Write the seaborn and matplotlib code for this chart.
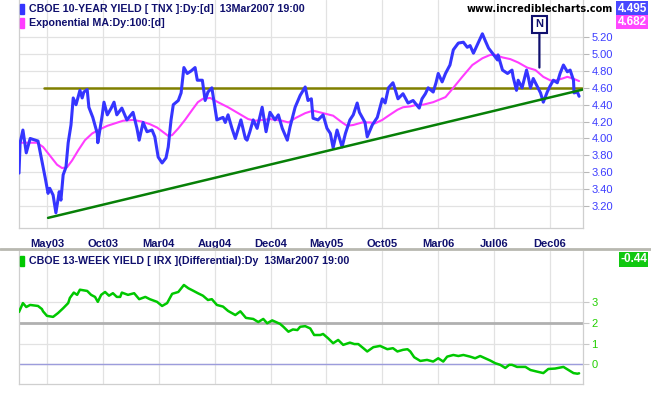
import numpy as np
import pandas as pd
import matplotlib
matplotlib.use("Agg")
import matplotlib.pyplot as plt
import seaborn as sns
from matplotlib.patches import Rectangle

# -----------------------------------------------
# data (x = trading sessions since chart start)
# -----------------------------------------------
tnx_day = [0, 2, 7, 13, 20, 29, 34, 39, 43, 47, 52, 55, 61, 66, 72, 75, 79, 84, 88, 93,
           97, 102, 109, 113, 116, 122, 125, 132, 140, 141, 149, 152, 158, 165, 170, 175, 184, 193, 204, 211,
           215, 222, 229, 238, 243, 249, 256, 263, 267, 272, 276, 285, 290, 295, 301, 308, 315, 319, 328, 333,
           338, 345, 354, 365, 369, 374, 381, 387, 397, 405, 408, 413, 419, 426, 435, 442, 449, 458, 464, 471,
           480, 485, 494, 503, 512, 517, 523, 526, 535, 544, 551, 557, 562, 569, 578, 584, 592, 598, 605, 609,
           619, 623, 632, 641, 650, 655, 661, 669, 673, 678, 687, 696, 705, 716, 721, 727, 732, 741, 746, 750,
           757, 763, 771, 777, 786, 795, 802, 807, 813, 822, 829, 834, 840, 847, 856, 857, 865, 874, 882, 884,
           890, 893, 900, 908, 911, 915, 920, 927, 933, 938, 945, 950, 956, 963, 968, 974, 981, 986, 992, 993,
           999, 1002]
tnx_val = [3.59, 3.95, 4.10, 3.83, 4.00, 3.98, 3.97, 3.80, 3.66, 3.53, 3.35, 3.41, 3.33, 3.12, 3.37, 3.27, 3.57, 3.66, 3.95, 4.16,
           4.48, 4.40, 4.57, 4.48, 4.55, 4.58, 4.37, 4.25, 4.06, 3.95, 4.28, 4.43, 4.28, 4.36, 4.43, 4.28, 4.36, 4.22, 4.31, 4.12,
           3.98, 4.19, 4.08, 4.10, 4.02, 3.78, 3.71, 3.77, 3.90, 4.22, 4.40, 4.45, 4.54, 4.84, 4.77, 4.80, 4.84, 4.69, 4.69, 4.45,
           4.55, 4.60, 4.22, 4.25, 4.19, 4.28, 4.12, 4.00, 4.22, 4.00, 3.98, 4.08, 4.22, 4.12, 4.37, 4.08, 4.31, 4.22, 4.28, 4.12,
           3.98, 4.14, 4.37, 4.51, 4.61, 4.45, 4.47, 4.24, 4.22, 4.28, 4.12, 4.06, 3.89, 4.10, 3.90, 4.06, 4.22, 4.28, 4.42, 4.31,
           4.19, 4.02, 4.16, 4.25, 4.47, 4.42, 4.60, 4.66, 4.58, 4.47, 4.53, 4.42, 4.45, 4.36, 4.47, 4.53, 4.60, 4.55, 4.66, 4.77,
           4.67, 4.77, 4.87, 5.05, 5.13, 5.14, 5.08, 5.10, 5.01, 5.14, 5.24, 5.16, 5.07, 5.01, 4.93, 4.99, 4.81, 4.77, 4.81, 4.73,
           4.57, 4.69, 4.60, 4.81, 4.73, 4.60, 4.71, 4.62, 4.54, 4.43, 4.55, 4.62, 4.69, 4.66, 4.77, 4.87, 4.79, 4.81, 4.69, 4.54,
           4.55, 4.50]

ema_day = [2, 32, 43, 55, 68, 77, 86, 95, 106, 118, 131, 145, 158, 172, 186, 204, 220, 234, 247, 261,
           267, 274, 285, 297, 310, 320, 329, 342, 356, 374, 392, 410, 422, 437, 449, 471, 482, 494, 512, 526,
           544, 562, 578, 587, 598, 614, 628, 637, 650, 661, 677, 687, 700, 712, 723, 741, 763, 777, 793, 811,
           829, 843, 852, 865, 879, 893, 909, 924, 938, 950, 956, 972, 981, 991, 1002]
ema_val = [3.95, 3.95, 3.90, 3.80, 3.69, 3.65, 3.66, 3.74, 3.86, 3.98, 4.06, 4.11, 4.15, 4.18, 4.21, 4.22, 4.20, 4.17, 4.13, 4.06,
           4.03, 4.04, 4.12, 4.22, 4.34, 4.43, 4.47, 4.48, 4.43, 4.37, 4.30, 4.23, 4.21, 4.22, 4.23, 4.21, 4.19, 4.24, 4.30, 4.33,
           4.30, 4.27, 4.19, 4.15, 4.16, 4.19, 4.19, 4.18, 4.22, 4.27, 4.34, 4.37, 4.38, 4.40, 4.40, 4.43, 4.49, 4.60, 4.73, 4.87,
           4.95, 4.99, 4.99, 4.96, 4.94, 4.90, 4.84, 4.81, 4.73, 4.69, 4.68, 4.71, 4.73, 4.71, 4.68]

irx_day = [0, 7, 13, 20, 34, 41, 43, 50, 61, 70, 79, 88, 91, 98, 104, 109, 122, 129, 136, 141,
           147, 154, 161, 168, 175, 181, 184, 195, 206, 215, 226, 234, 247, 256, 265, 274, 285, 295, 303, 311,
           320, 329, 338, 345, 354, 365, 374, 387, 396, 406, 419, 428, 437, 444, 453, 467, 473, 482, 490, 498,
           503, 512, 521, 528, 539, 544, 553, 562, 571, 580, 592, 600, 607, 616, 623, 634, 646, 659, 669, 677,
           687, 695, 700, 707, 718, 730, 741, 750, 759, 766, 777, 786, 795, 807, 816, 825, 834, 843, 852, 861,
           870, 877, 882, 891, 906, 915, 927, 938, 947, 959, 974, 983, 992, 999, 1002]
irx_val = [2.54, 2.97, 2.78, 2.88, 2.83, 2.68, 2.57, 2.35, 2.30, 2.49, 2.72, 2.97, 3.22, 3.48, 3.37, 3.62, 3.56, 3.37, 3.27, 3.03,
           3.37, 3.51, 3.33, 3.45, 3.27, 3.27, 3.48, 3.37, 3.45, 3.16, 3.27, 3.16, 3.03, 2.83, 2.97, 3.42, 3.51, 3.85, 3.69, 3.58,
           3.45, 3.33, 3.12, 3.16, 2.88, 2.80, 2.59, 2.39, 2.57, 2.25, 2.20, 2.05, 2.20, 1.99, 2.13, 1.96, 1.82, 1.58, 1.69, 1.66,
           1.82, 1.85, 1.74, 1.42, 1.42, 1.47, 1.26, 1.02, 1.18, 0.94, 1.05, 0.98, 0.98, 0.78, 0.62, 0.83, 0.89, 0.73, 0.78, 0.62,
           0.70, 0.73, 0.62, 0.34, 0.16, 0.21, 0.13, 0.29, 0.13, 0.37, 0.45, 0.40, 0.45, 0.37, 0.29, 0.40, 0.29, 0.18, 0.05, -0.03,
           -0.18, -0.03, -0.03, -0.13, -0.13, -0.28, -0.36, -0.43, -0.23, -0.21, -0.13, -0.28, -0.43, -0.46, -0.44]

tick_days = [50, 150, 250, 350, 450, 550, 650, 750, 850, 950]
tick_labels = ["May03", "Oct03", "Mar04", "Aug04", "Dec04", "May05", "Oct05", "Mar06", "Jul06", "Dec06"]

resist_days = [45, 1009]
resist_vals = [4.595, 4.595]
trend_days = [52, 1009]
trend_vals = [3.06, 4.58]
signal_day = 931
signal_val = 4.84

tnx_last = "4.495"
ema_last = "4.682"
irx_last = "-0.44"

tnx = pd.DataFrame({"day": tnx_day, "yield": tnx_val})
ema = pd.DataFrame({"day": ema_day, "yield": ema_val})
irx = pd.DataFrame({"day": irx_day, "diff": irx_val})

# -----------------------------------------------
# styling
# -----------------------------------------------
sns.set_style("white")
plt.rcParams["font.family"] = ["Liberation Sans", "DejaVu Sans"]

NAVY = "#10106e"
BLUE = "#3535ff"
MAGENTA = "#ff3cff"
GREEN = "#00c800"
GRID = "#e2e2e2"

W, H = 651, 395
fig = plt.figure(figsize=(W / 100, H / 100), dpi=100)
ax1 = fig.add_axes([19 / W, 167 / H, 564 / W, 228 / H])
ax2 = fig.add_axes([19 / W, 11 / H, 564 / W, 133 / H])

# -----------------------------------------------
# upper panel: 10-year yield
# -----------------------------------------------
sns.lineplot(data=tnx, x="day", y="yield", ax=ax1, color=BLUE, lw=2.2, zorder=4)
sns.lineplot(data=ema, x="day", y="yield", ax=ax1, color=MAGENTA, lw=1.5, zorder=3)
sns.lineplot(x=resist_days, y=resist_vals, ax=ax1, color="#808000", lw=1.8, zorder=2)
sns.lineplot(x=trend_days, y=trend_vals, ax=ax1, color="#078007", lw=1.8, zorder=5)

ax1.annotate("N", xy=(signal_day, signal_val), xytext=(signal_day, 5.35),
             ha="center", va="center", color=NAVY, fontsize=8, fontweight="bold",
             arrowprops=dict(arrowstyle="-", color=NAVY, lw=1.6, shrinkA=0, shrinkB=0),
             bbox=dict(boxstyle="square,pad=0.3", fc="white", ec=NAVY, lw=1.5), zorder=6)

ax1.set_xlim(0, 1009)
ax1.set_ylim(2.94, 5.64)
ax1.set_yticks(np.arange(3.2, 5.21, 0.2))
ax1.set_yticklabels([f"{v:.2f}" for v in np.arange(3.2, 5.21, 0.2)])
ax1.set_xticks(tick_days)
ax1.set_xticklabels(tick_labels)
ax1.yaxis.tick_right()
ax1.tick_params(axis="y", labelcolor="#3c3cff", color="#b8b8b8", length=4, width=0.8, labelsize=8, pad=2)
ax1.tick_params(axis="x", labelcolor=NAVY, color="#d0d0d0", length=4, width=0.8, labelsize=8, pad=4)
for lab in ax1.get_xticklabels():
    lab.set_fontweight("bold")
ax1.set_xlabel("")
ax1.set_ylabel("")

# -----------------------------------------------
# lower panel: 13-week yield differential
# -----------------------------------------------
ax2.axhline(2, color="#b0b0b0", lw=2, zorder=2)
ax2.axhline(0, color="#9c9cdc", lw=1, zorder=2)
sns.lineplot(data=irx, x="day", y="diff", ax=ax2, color=GREEN, lw=1.8, zorder=4)
ax2.set_xlim(0, 1009)
ax2.set_ylim(-0.96, 5.5)
ax2.set_yticks([0, 1, 2, 3])
ax2.set_xticks(tick_days)
ax2.set_xticklabels([])
ax2.yaxis.tick_right()
ax2.tick_params(axis="y", labelcolor="#22d000", color="#c8c8c8", length=4, width=0.8, labelsize=8, pad=2)
ax2.tick_params(axis="x", color="#d8d8d8", length=4, width=0.8)
ax2.set_xlabel("")
ax2.set_ylabel("")

for ax in (ax1, ax2):
    ax.set_axisbelow(True)
    ax.grid(True, color=GRID, lw=0.9)
    ax.spines["top"].set_visible(False)
    for s in ("left", "right", "bottom"):
        ax.spines[s].set_color("#cfcfcf")
        ax.spines[s].set_linewidth(0.9)

# -----------------------------------------------
# headers, value boxes, separator
# -----------------------------------------------
def fy(y):
    return 1 - y / H

def key(y, colour):
    fig.add_artist(Rectangle((20 / W, fy(y + 5)), 4 / W, 10 / H, color=colour, transform=fig.transFigure))

key(9, BLUE)
key(23, MAGENTA)
key(261, GREEN)
fig.text(29 / W, fy(9), "CBOE 10-YEAR YIELD [ TNX ]:Dy:[d]  13Mar2007 19:00",
         color=NAVY, fontsize=7.7, fontweight="bold", va="center")
fig.text(29 / W, fy(23), "Exponential MA:Dy:100:[d]",
         color=NAVY, fontsize=7.7, fontweight="bold", va="center")
fig.text(29 / W, fy(261), "CBOE 13-WEEK YIELD [ IRX ](Differential):Dy  13Mar2007 19:00",
         color=NAVY, fontsize=7.7, fontweight="bold", va="center")
fig.text(613 / W, fy(9), "www.incrediblecharts.com", color="black", fontsize=7.0,
         fontweight="bold", family="DejaVu Sans", ha="right", va="center")

def value_box(y, txt, colour):
    fig.text(647 / W, fy(y), txt, color="white", fontsize=8.5, fontweight="bold", ha="right", va="center",
             bbox=dict(boxstyle="square,pad=0.12", fc=colour, ec="none"))

value_box(8.5, tnx_last, "#4848ff")
value_box(22, ema_last, "#ff48ff")
value_box(259.5, irx_last, "#10c810")

fig.add_artist(plt.Line2D([0, 1], [fy(249), fy(249)], color="#b8b8b0", lw=2, transform=fig.transFigure))

fig.savefig("out.png", dpi=100)
